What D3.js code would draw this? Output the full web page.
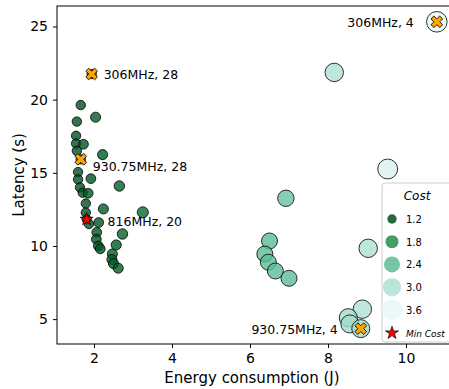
<!DOCTYPE html>
<html>
<head>
<meta charset="utf-8">
<script src="https://cdn.jsdelivr.net/npm/d3@7"></script>
<style>
  body { margin: 0; background: #fff; }
  svg text { font-family: "DejaVu Sans", sans-serif; }
</style>
</head>
<body>
<div id="chart"></div>
<script>
// energy (J), latency (s) and cost of every config
const energy = [1.66, 1.56, 2.04, 1.54, 1.54, 1.73, 1.56, 2.22, 1.66, 1.59, 1.92, 1.59, 2.65, 1.64, 1.71, 1.85,
  1.79, 2.24, 3.25, 1.79, 1.81, 1.87, 2.12, 2.07, 2.06, 2.11, 2.16, 2.73, 2.57, 2.47, 2.46, 2.50, 2.62, 1.94,
  8.16, 9.53, 6.92, 9.03, 6.50, 6.38, 6.47, 6.65, 7.00, 8.88, 8.52, 8.56, 8.84, 10.79];
const latency = [19.63, 18.5, 18.8, 17.53, 17.0, 16.95, 16.5, 16.24, 15.92, 15.05, 14.6, 14.55, 14.1, 14.0, 13.64, 13.6,
  12.9, 12.53, 12.3, 12.28, 11.82, 11.5, 11.6, 10.93, 10.46, 10.0, 9.8, 10.82, 10.07, 9.45, 9.07, 8.79, 8.48, 21.75,
  21.86, 15.26, 13.26, 9.84, 10.34, 9.45, 8.89, 8.29, 7.79, 5.68, 5.1, 4.67, 4.35, 25.32];
const cost = [1.2, 1.2, 1.3, 1.2, 1.2, 1.25, 1.2, 1.3, 1.2, 1.2, 1.25, 1.2, 1.35, 1.2, 1.2, 1.25,
  1.2, 1.3, 1.45, 1.2, 1.15, 1.2, 1.25, 1.25, 1.25, 1.25, 1.25, 1.35, 1.3, 1.3, 1.3, 1.3, 1.3, 1.2,
  3.0, 3.4, 2.5, 3.0, 2.4, 2.4, 2.4, 2.4, 2.4, 3.0, 2.9, 2.9, 2.9, 3.6];

// highlighted configs (index into the arrays above)
const markIdx = [33, 8, 46, 47];
const markText = ["306MHz, 28", "930.75MHz, 28", "930.75MHz, 4", "306MHz, 4"];
const minIdx = 20;
const minText = "816MHz, 20";

const legendCosts = [1.2, 1.8, 2.4, 3.0, 3.6];
const xTicks = [2, 4, 6, 8, 10];
const yTicks = [5, 10, 15, 20, 25];

const svgWidth = 449;
const svgHeight = 389;
const margin = { top: 6, right: -3, bottom: 45, left: 57 };
const width = svgWidth - margin.left - margin.right;
const height = svgHeight - margin.top - margin.bottom;

const data = energy.map((e, i) => ({ e: e, l: latency[i], c: cost[i] }));

const svg = d3.select("#chart").append("svg")
  .attr("width", svgWidth)
  .attr("height", svgHeight);

const chartGroup = svg.append("g")
  .attr("transform", `translate(${margin.left}, ${margin.top})`);

// scales
const xScale = d3.scaleLinear().domain([1.051, 11.179]).range([0, width]);
const yScale = d3.scaleLinear().domain([3.3, 26.4]).range([height, 0]);
const color = d3.scaleSequential(t => d3.interpolateBuGn(1 - t)).domain([1.1, 3.9]);
const rad = c => Math.sqrt(35 * c - 20);

// frame
chartGroup.append("rect")
  .attr("width", width).attr("height", height)
  .attr("fill", "none").attr("stroke", "#000").attr("stroke-width", 1);

// axes
const bottomAxis = d3.axisBottom(xScale).tickValues(xTicks).tickSize(4).tickPadding(5).tickFormat(d3.format("d"));
const leftAxis = d3.axisLeft(yScale).tickValues(yTicks).tickSize(4).tickPadding(5).tickFormat(d3.format("d"));

chartGroup.append("g").attr("transform", `translate(0, ${height})`).call(bottomAxis)
  .call(g => g.selectAll("text").style("font-size", "14px").attr("fill", "#000"));
chartGroup.append("g").call(leftAxis)
  .call(g => g.selectAll("text").style("font-size", "14px").attr("fill", "#000"));
chartGroup.selectAll(".domain").remove();

// points
chartGroup.selectAll("circle.pt")
  .data(data)
  .enter()
  .append("circle")
  .attr("class", "pt")
  .attr("cx", d => xScale(d.e))
  .attr("cy", d => yScale(d.l))
  .attr("r", d => rad(d.c))
  .attr("fill", d => color(d.c))
  .attr("fill-opacity", 0.8)
  .attr("stroke", "#000")
  .attr("stroke-width", 0.8);

// orange crosses
const cross = d3.symbol().type(d3.symbolCross).size(85);
markIdx.forEach((idx, i) => {
  const d = data[idx];
  const px = xScale(d.e), py = yScale(d.l);
  chartGroup.append("path")
    .attr("d", cross())
    .attr("transform", `translate(${px}, ${py}) rotate(45)`)
    .attr("fill", "#ffa500")
    .attr("stroke", "#000")
    .attr("stroke-width", 0.8);
  const left = px > width / 2;
  chartGroup.append("text")
    .attr("x", px + (left ? -23 : 12))
    .attr("y", py + (i == 1 ? 12 : 5))
    .attr("text-anchor", left ? "end" : "start")
    .style("font-size", "12.5px")
    .text(markText[i]);
});

// min cost star
const star = d3.symbol().type(d3.symbolStar).size(52);
const mp = data[minIdx];
chartGroup.append("path")
  .attr("d", star())
  .attr("transform", `translate(${xScale(mp.e)}, ${yScale(mp.l)})`)
  .attr("fill", "#ff0000").attr("stroke", "#000").attr("stroke-width", 0.7);
chartGroup.append("text")
  .attr("x", xScale(mp.e) + 21)
  .attr("y", yScale(mp.l) + 7)
  .style("font-size", "12.5px")
  .text(minText);

// axis labels
svg.append("text")
  .attr("x", 252).attr("y", 383)
  .attr("text-anchor", "middle")
  .style("font-size", "15px")
  .text("Energy consumption (J)");
svg.append("text")
  .attr("transform", "translate(24, 175) rotate(-90)")
  .attr("text-anchor", "middle")
  .style("font-size", "15px")
  .text("Latency (s)");

// legend
const legend = svg.append("g").attr("transform", "translate(382, 183)");
legend.append("rect")
  .attr("width", 80).attr("height", 159).attr("rx", 3)
  .attr("fill", "#fff").attr("fill-opacity", 0.85)
  .attr("stroke", "#ccc");
legend.append("text")
  .attr("x", 35).attr("y", 17)
  .attr("text-anchor", "middle")
  .style("font-size", "12px").style("font-style", "italic")
  .text("Cost");
legendCosts.forEach((c, i) => {
  const yy = 36 + i * 22.7;
  legend.append("circle")
    .attr("cx", 10).attr("cy", yy).attr("r", rad(c))
    .attr("fill", color(c)).attr("fill-opacity", 0.85);
  legend.append("text")
    .attr("x", 24).attr("y", yy + 4)
    .style("font-size", "10px")
    .text(c.toFixed(1));
});
legend.append("path")
  .attr("d", star())
  .attr("transform", "translate(10, 150)")
  .attr("fill", "#ff0000").attr("stroke", "#000").attr("stroke-width", 0.7);
legend.append("text")
  .attr("x", 24).attr("y", 154)
  .style("font-size", "9px").style("font-style", "italic")
  .text("Min Cost");
</script>
</body>
</html>
